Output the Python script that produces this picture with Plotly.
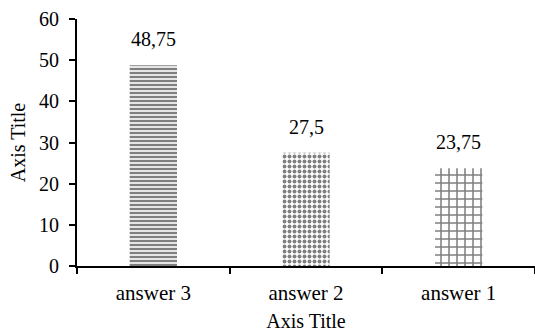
import plotly.graph_objects as go

categories = ["answer 3", "answer 2", "answer 1"]
values = [48.75, 27.5, 23.75]
labels = ["48,75", "27,5", "23,75"]
y_ticks = [0, 10, 20, 30, 40, 50, 60]

FONT = "Liberation Serif"

fig = go.Figure()
fig.add_trace(go.Bar(
    x=categories, y=values, width=0.31,
    marker=dict(
        color="white",
        line=dict(width=0),
        pattern=dict(shape=["-", ".", "+"], fgcolor="black", bgcolor="white",
                     size=[4, 5, 8], solidity=[0.6, 0.5, 0.35], fillmode="overlay"),
    ),
    showlegend=False,
))
for c, v, t in zip(categories, values, labels):
    fig.add_annotation(x=c, y=v, text=t, showarrow=False, yanchor="bottom", yshift=13,
                       font=dict(family=FONT, size=20, color="black"))

fig.update_layout(
    width=535, height=333,
    margin=dict(l=77, r=0, t=19, b=67),
    paper_bgcolor="white", plot_bgcolor="white",
    font=dict(family=FONT, size=20, color="black"),
)
fig.update_xaxes(
    type="category", range=[-0.5, 2.5], tickson="boundaries",
    ticks="outside", ticklen=6, tickwidth=1.5, tickcolor="black",
    showline=True, linecolor="black", linewidth=2, showgrid=False,
    tickfont=dict(family=FONT, size=21), ticklabelstandoff=7,
    title=dict(text="Axis Title", font=dict(family=FONT, size=20), standoff=10),
)
fig.update_yaxes(
    range=[0, 60], tickvals=y_ticks,
    ticks="outside", ticklen=6, tickwidth=1.5, tickcolor="black",
    showline=True, linecolor="black", linewidth=2, showgrid=False, zeroline=False,
    tickfont=dict(family=FONT, size=20), ticklabelstandoff=6,
    title=dict(text="Axis Title", font=dict(family=FONT, size=20), standoff=8),
)
fig.write_html("out.html", config={"displayModeBar": False},
               post_script="document.body.style.margin='0';")
